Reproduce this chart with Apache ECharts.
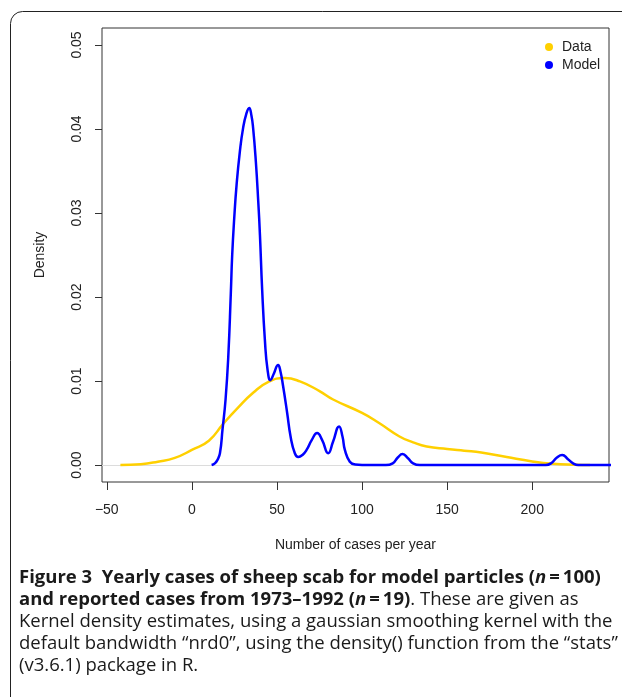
<!DOCTYPE html>
<html>
<head>
<meta charset="utf-8">
<script src="https://cdn.jsdelivr.net/npm/echarts@6/dist/echarts.min.js"></script>
<style>
html,body{margin:0;padding:0;background:#fff;}
#chart{width:622px;height:697px;}
</style>
</head>
<body>
<div id="chart"></div>
<script>
// ---- Data ----
var dataX = [-42, -30, -20, -10, 0, 10, 18.4, 27, 36, 45, 54.6, 63.5, 75, 83, 100, 110, 122, 130, 138, 150, 160, 170, 185, 200, 212, 225, 234];
var dataY = [0.00001, 0.0001, 0.0004, 0.00085, 0.0018, 0.0029, 0.0049, 0.0068, 0.0086, 0.0099, 0.01036, 0.00995, 0.0088, 0.0078, 0.0062, 0.0050, 0.0034, 0.0027, 0.0022, 0.0019, 0.0017, 0.0015, 0.00095, 0.00043, 0.00015, 0.00003, 0];

var modelX = [11.6, 13.5, 15, 16.5, 18, 19.8, 21.4, 22.9, 23.7, 24.9, 26.3, 28.2, 30.1, 32, 33.7, 35, 36, 37.6, 39, 40, 41.3, 42.9, 44.5, 46.2, 48, 50.7, 52, 53.6, 56, 58, 60.5, 62.5, 65, 67.4, 70.5, 73.6, 76.5, 80.1, 83, 86.5, 88.5, 89.9, 92.8, 96, 100, 114, 118, 121, 123.8, 127, 130, 134, 208, 211, 214.5, 217.6, 221, 224, 227, 250];
var modelY = [0, 0.0002, 0.0006, 0.0014, 0.0042, 0.0078, 0.0129, 0.0205, 0.0250, 0.0294, 0.0334, 0.0373, 0.0401, 0.0418, 0.0425, 0.0416, 0.0401, 0.0361, 0.0314, 0.0274, 0.0209, 0.0149, 0.0113, 0.0101, 0.0108, 0.0119, 0.0112, 0.0094, 0.0062, 0.0034, 0.0014, 0.00095, 0.0012, 0.0018, 0.0030, 0.0038, 0.0030, 0.0014, 0.0028, 0.0046, 0.0034, 0.0018, 0.0004, 0.00005, 0, 0, 0.0002, 0.0009, 0.0013, 0.0008, 0.0002, 0, 0, 0.0002, 0.0009, 0.0012, 0.0007, 0.0002, 0, 0];

var xTicks = [-50, 0, 50, 100, 150, 200];
var yTicks = [0, 0.01, 0.02, 0.03, 0.04, 0.05];
var seriesNames = ['Data', 'Model'];
var seriesColors = ['#FFD000', '#0000FF'];

function pairs(xs, ys) { return xs.map(function (x, i) { return [x, ys[i]]; }); }

var axisFont = '"Liberation Sans", Arial, Helvetica, sans-serif';
var capFont = '"Open Sans", sans-serif';
var capSize = 18.5;
var capColor = '#1a1a1a';

var rich = {
  b: { fontFamily: capFont, fontSize: capSize, fontWeight: 'bold', color: capColor },
  bi: { fontFamily: capFont, fontSize: capSize, fontWeight: 'bold', fontStyle: 'italic', color: capColor },
  r: { fontFamily: capFont, fontSize: capSize, fontWeight: 'normal', color: capColor }
};
var captionLines = [
  '{b|Figure 3  Yearly cases of sheep scab for model particles (}{bi|n}{b|\u2009=\u2009100)}',
  '{b|and reported cases from 1973\u20131992 (}{bi|n}{b|\u2009=\u200919)}{r|. These are given as}',
  '{r|Kernel density estimates, using a gaussian smoothing kernel with the}',
  '{r|default bandwidth \u201Cnrd0\u201D, using the density() function from the \u201Cstats\u201D}',
  '{r|(v3.6.1) package in R.}'
];
var captionY = [578, 600, 622, 644, 666];

var graphics = [{
  type: 'rect',
  shape: { x: 10.5, y: 11.5, width: 800, height: 900, r: [12, 0, 0, 0] },
  style: { fill: 'none', stroke: '#222', lineWidth: 1 },
  silent: true
}];
captionLines.forEach(function (t, i) {
  graphics.push({
    type: 'text',
    x: 19,
    y: captionY[i],
    style: {
      text: t,
      rich: rich,
      font: capSize + 'px ' + capFont,
      fill: capColor,
      verticalAlign: 'middle',
      align: 'left'
    },
    silent: true
  });
});

var chart = echarts.init(document.getElementById('chart'), null, { renderer: 'canvas' });
chart.setOption({
  animation: false,
  backgroundColor: '#fff',
  textStyle: { fontFamily: axisFont },
  grid: {
    left: 102, top: 28, right: 13, bottom: 215,
    show: true, borderColor: '#333', borderWidth: 1, backgroundColor: 'transparent'
  },
  legend: {
    orient: 'vertical',
    left: 540, top: 35,
    icon: 'circle',
    itemWidth: 16, itemHeight: 8, itemGap: 4,
    textStyle: { fontFamily: axisFont, fontSize: 14, color: '#222' },
    data: seriesNames.map(function (n, i) { return { name: n, itemStyle: { color: seriesColors[i] } }; })
  },
  xAxis: {
    type: 'value',
    min: -52.8, max: 245.1,
    name: 'Number of cases per year',
    nameLocation: 'middle',
    nameGap: 56,
    nameTextStyle: { fontFamily: axisFont, fontSize: 14, color: '#222' },
    axisLine: { show: false, onZero: false },
    axisTick: { show: true, inside: false, length: 8, lineStyle: { color: '#333' }, customValues: xTicks },
    axisLabel: {
      show: true, margin: 21, fontSize: 14, color: '#222', fontFamily: axisFont,
      customValues: xTicks,
      formatter: function (v) { return v < 0 ? '\u2212' + Math.abs(v) : String(v); }
    },
    splitLine: { show: false }
  },
  yAxis: {
    type: 'value',
    min: -0.00202, max: 0.05202,
    name: 'Density',
    nameLocation: 'middle',
    nameGap: 55,
    nameTextStyle: { fontFamily: axisFont, fontSize: 14, color: '#222' },
    axisLine: { show: false, onZero: false },
    axisTick: { show: true, inside: false, length: 7, lineStyle: { color: '#333' }, customValues: yTicks },
    axisLabel: {
      show: true, rotate: 90, margin: 18, fontSize: 14, color: '#222', fontFamily: axisFont,
      customValues: yTicks,
      formatter: function (v) { return v.toFixed(2); }
    },
    splitLine: { show: false }
  },
  series: [
    {
      name: seriesNames[0],
      type: 'line',
      data: pairs(dataX, dataY),
      showSymbol: false,
      smooth: 0.5,
      clip: true,
      itemStyle: { color: seriesColors[0] },
      lineStyle: { color: seriesColors[0], width: 2.5 },
      z: 2,
      markLine: {
        silent: true,
        symbol: ['none', 'none'],
        label: { show: false },
        lineStyle: { color: '#dcdcdc', width: 1, type: 'solid' },
        data: [{ yAxis: 0 }],
        z: 1
      }
    },
    {
      name: seriesNames[1],
      type: 'line',
      data: pairs(modelX, modelY),
      showSymbol: false,
      smooth: 0.5,
      clip: true,
      itemStyle: { color: seriesColors[1] },
      lineStyle: { color: seriesColors[1], width: 2.5 },
      z: 3
    }
  ],
  graphic: graphics
});
</script>
</body>
</html>
